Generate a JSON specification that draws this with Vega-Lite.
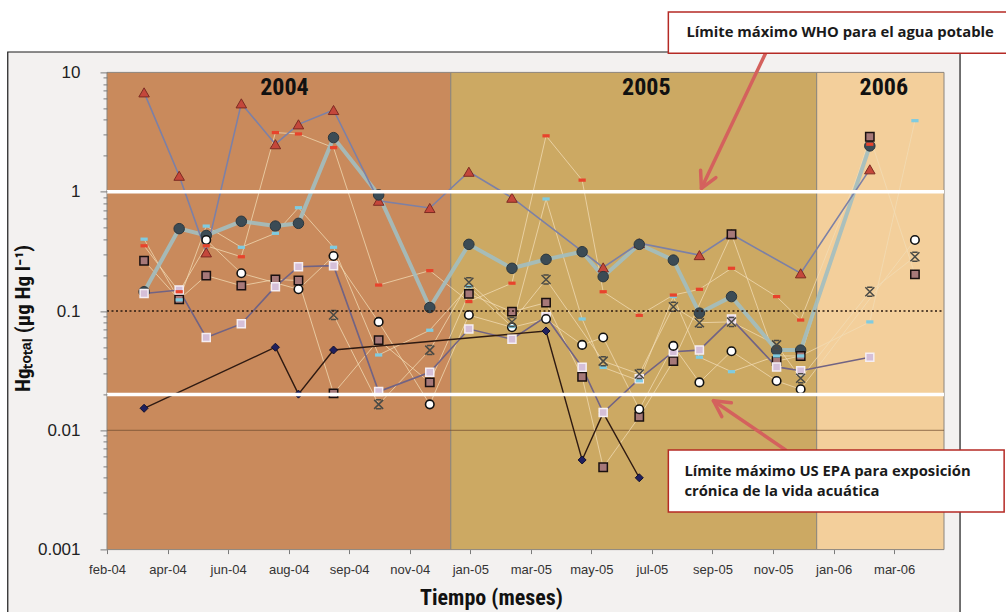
{
  "$schema": "https://vega.github.io/schema/vega-lite/v6.json",
  "width": 837,
  "height": 477.2,
  "autosize": {"type": "none"},
  "padding": {"left": 107, "top": 72.4, "right": 62, "bottom": 62.4},
  "background": "#ffffff",
  "config": {"view": {"stroke": null}},
  "datasets": {
    "marco": [{"fecha": "2003-10-17", "fecha2": "2006-05-24", "hg": 0.0001, "hg2": 14.83}],
    "franjas": [
      {"anio": "2004", "fecha": "2004-01-24", "fecha2": "2005-01-01", "hg": 0.001, "hg2": 10},
      {"anio": "2005", "fecha": "2005-01-01", "fecha2": "2006-01-01", "hg": 0.001, "hg2": 10},
      {"anio": "2006", "fecha": "2006-01-01", "fecha2": "2006-05-08", "hg": 0.001, "hg2": 10}
    ],
    "limites": [
      {"linea": "base", "fecha": "2004-01-24", "fecha2": "2006-05-08", "hg": 0.01},
      {"linea": "punteada", "fecha": "2004-01-24", "fecha2": "2006-05-08", "hg": 0.1},
      {"linea": "WHO", "fecha": "2004-01-24", "fecha2": "2006-05-08", "hg": 1},
      {"linea": "EPA", "fecha": "2004-01-24", "fecha2": "2006-05-08", "hg": 0.02}
    ],
    "anios": [
      {"anio": "2004", "fecha": "2004-07-19", "hg": 7.39},
      {"anio": "2005", "fecha": "2005-07-15", "hg": 7.39},
      {"anio": "2006", "fecha": "2006-03-09", "hg": 7.39}
    ],
    "cajas": [
      {"nota": "WHO", "fecha": "2005-08-06", "fecha2": "2006-07-20", "hg": 14.5, "hg2": 32.1},
      {"nota": "EPA", "fecha": "2005-08-06", "fecha2": "2006-07-07", "hg": 0.002065, "hg2": 0.00684}
    ],
    "textos": [
      {"nota": "WHO", "fecha": "2005-08-24", "hg": 21.3, "texto": "Límite máximo WHO para el agua potable"},
      {"nota": "EPA", "fecha": "2005-08-22", "hg": 0.00447, "texto": "Límite máximo US EPA para exposición\ncrónica de la vida acuática"}
    ],
    "flechas": [
      {"flecha": "WHO", "fecha": "2005-11-11", "hg": 14.5, "fecha2": "2005-09-08", "hg2": 1.068},
      {"flecha": "EPA", "fecha": "2005-12-01", "hg": 0.00684, "fecha2": "2005-09-20", "hg2": 0.0177}
    ],
    "puntas": [
      {"flecha": "WHO", "fecha": "2005-09-08", "hg": 1.068},
      {"flecha": "EPA", "fecha": "2005-09-20", "hg": 0.0177}
    ],
    "series": [
      {"serie": "E1", "fecha": "2004-03-01", "hg": 6.8},
      {"serie": "E1", "fecha": "2004-04-05", "hg": 1.36},
      {"serie": "E1", "fecha": "2004-05-02", "hg": 0.31},
      {"serie": "E1", "fecha": "2004-06-06", "hg": 5.5},
      {"serie": "E1", "fecha": "2004-07-10", "hg": 2.5},
      {"serie": "E1", "fecha": "2004-08-02", "hg": 3.67},
      {"serie": "E1", "fecha": "2004-09-06", "hg": 4.84},
      {"serie": "E1", "fecha": "2004-10-21", "hg": 0.84},
      {"serie": "E1", "fecha": "2004-12-11", "hg": 0.73},
      {"serie": "E1", "fecha": "2005-01-19", "hg": 1.47},
      {"serie": "E1", "fecha": "2005-03-03", "hg": 0.89},
      {"serie": "E1", "fecha": "2005-06-02", "hg": 0.232},
      {"serie": "E1", "fecha": "2005-07-08", "hg": 0.37},
      {"serie": "E1", "fecha": "2005-09-06", "hg": 0.294},
      {"serie": "E1", "fecha": "2005-10-08", "hg": 0.44},
      {"serie": "E1", "fecha": "2005-12-16", "hg": 0.207},
      {"serie": "E1", "fecha": "2006-02-23", "hg": 1.54},

      {"serie": "E2", "fecha": "2004-03-01", "hg": 0.145},
      {"serie": "E2", "fecha": "2004-04-05", "hg": 0.49},
      {"serie": "E2", "fecha": "2004-05-02", "hg": 0.43},
      {"serie": "E2", "fecha": "2004-06-06", "hg": 0.565},
      {"serie": "E2", "fecha": "2004-07-10", "hg": 0.515},
      {"serie": "E2", "fecha": "2004-08-02", "hg": 0.543},
      {"serie": "E2", "fecha": "2004-09-06", "hg": 2.84},
      {"serie": "E2", "fecha": "2004-10-21", "hg": 0.94},
      {"serie": "E2", "fecha": "2004-12-11", "hg": 0.107},
      {"serie": "E2", "fecha": "2005-01-19", "hg": 0.362},
      {"serie": "E2", "fecha": "2005-03-03", "hg": 0.228},
      {"serie": "E2", "fecha": "2005-04-06", "hg": 0.271},
      {"serie": "E2", "fecha": "2005-05-12", "hg": 0.314},
      {"serie": "E2", "fecha": "2005-06-02", "hg": 0.194},
      {"serie": "E2", "fecha": "2005-07-08", "hg": 0.362},
      {"serie": "E2", "fecha": "2005-08-11", "hg": 0.267},
      {"serie": "E2", "fecha": "2005-09-06", "hg": 0.096},
      {"serie": "E2", "fecha": "2005-10-08", "hg": 0.132},
      {"serie": "E2", "fecha": "2005-11-22", "hg": 0.047},
      {"serie": "E2", "fecha": "2005-12-16", "hg": 0.047},
      {"serie": "E2", "fecha": "2006-02-23", "hg": 2.42},

      {"serie": "E3", "fecha": "2004-03-01", "hg": 0.352},
      {"serie": "E3", "fecha": "2004-04-05", "hg": 0.145},
      {"serie": "E3", "fecha": "2004-05-02", "hg": 0.352},
      {"serie": "E3", "fecha": "2004-06-06", "hg": 0.285},
      {"serie": "E3", "fecha": "2004-07-10", "hg": 3.13},
      {"serie": "E3", "fecha": "2004-08-02", "hg": 3.05},
      {"serie": "E3", "fecha": "2004-09-06", "hg": 2.34},
      {"serie": "E3", "fecha": "2004-10-21", "hg": 0.165},
      {"serie": "E3", "fecha": "2004-12-11", "hg": 0.218},
      {"serie": "E3", "fecha": "2005-01-19", "hg": 0.12},
      {"serie": "E3", "fecha": "2005-03-03", "hg": 0.171},
      {"serie": "E3", "fecha": "2005-04-06", "hg": 2.94},
      {"serie": "E3", "fecha": "2005-05-12", "hg": 1.25},
      {"serie": "E3", "fecha": "2005-06-02", "hg": 0.145},
      {"serie": "E3", "fecha": "2005-07-08", "hg": 0.092},
      {"serie": "E3", "fecha": "2005-08-11", "hg": 0.136},
      {"serie": "E3", "fecha": "2005-09-06", "hg": 0.152},
      {"serie": "E3", "fecha": "2005-10-08", "hg": 0.228},
      {"serie": "E3", "fecha": "2005-11-22", "hg": 0.132},
      {"serie": "E3", "fecha": "2005-12-16", "hg": 0.084},
      {"serie": "E3", "fecha": "2006-02-23", "hg": 2.5},

      {"serie": "E4", "fecha": "2004-03-01", "hg": 0.40},
      {"serie": "E4", "fecha": "2004-04-05", "hg": 0.124},
      {"serie": "E4", "fecha": "2004-05-02", "hg": 0.515},
      {"serie": "E4", "fecha": "2004-06-06", "hg": 0.342},
      {"serie": "E4", "fecha": "2004-07-10", "hg": 0.448},
      {"serie": "E4", "fecha": "2004-08-02", "hg": 0.734},
      {"serie": "E4", "fecha": "2004-09-06", "hg": 0.342},
      {"serie": "E4", "fecha": "2004-10-21", "hg": 0.0428},
      {"serie": "E4", "fecha": "2004-12-11", "hg": 0.069},
      {"serie": "E4", "fecha": "2005-01-19", "hg": 0.16},
      {"serie": "E4", "fecha": "2005-03-03", "hg": 0.074},
      {"serie": "E4", "fecha": "2005-04-06", "hg": 0.869},
      {"serie": "E4", "fecha": "2005-05-12", "hg": 0.0857},
      {"serie": "E4", "fecha": "2005-06-02", "hg": 0.0337},
      {"serie": "E4", "fecha": "2005-07-08", "hg": 0.026},
      {"serie": "E4", "fecha": "2005-08-11", "hg": 0.132},
      {"serie": "E4", "fecha": "2005-09-06", "hg": 0.041},
      {"serie": "E4", "fecha": "2005-10-08", "hg": 0.031},
      {"serie": "E4", "fecha": "2005-11-22", "hg": 0.042},
      {"serie": "E4", "fecha": "2005-12-16", "hg": 0.042},
      {"serie": "E4", "fecha": "2006-02-23", "hg": 0.081},
      {"serie": "E4", "fecha": "2006-04-09", "hg": 3.94},

      {"serie": "E5", "fecha": "2004-03-01", "hg": 0.264},
      {"serie": "E5", "fecha": "2004-04-05", "hg": 0.125},
      {"serie": "E5", "fecha": "2004-05-02", "hg": 0.198},
      {"serie": "E5", "fecha": "2004-06-06", "hg": 0.163},
      {"serie": "E5", "fecha": "2004-07-10", "hg": 0.184},
      {"serie": "E5", "fecha": "2004-08-02", "hg": 0.18},
      {"serie": "E5", "fecha": "2004-09-06", "hg": 0.0204},
      {"serie": "E5", "fecha": "2004-10-21", "hg": 0.057},
      {"serie": "E5", "fecha": "2004-12-11", "hg": 0.0252},
      {"serie": "E5", "fecha": "2005-01-19", "hg": 0.139},
      {"serie": "E5", "fecha": "2005-03-03", "hg": 0.0987},
      {"serie": "E5", "fecha": "2005-04-06", "hg": 0.1175},
      {"serie": "E5", "fecha": "2005-05-12", "hg": 0.0281},
      {"serie": "E5", "fecha": "2005-06-02", "hg": 0.0049},
      {"serie": "E5", "fecha": "2005-07-08", "hg": 0.013},
      {"serie": "E5", "fecha": "2005-08-11", "hg": 0.038},
      {"serie": "E5", "fecha": "2005-10-08", "hg": 0.44},
      {"serie": "E5", "fecha": "2005-11-22", "hg": 0.038},
      {"serie": "E5", "fecha": "2005-12-16", "hg": 0.042},
      {"serie": "E5", "fecha": "2006-02-23", "hg": 2.89},
      {"serie": "E5", "fecha": "2006-04-09", "hg": 0.203},

      {"serie": "E6", "fecha": "2004-03-01", "hg": 0.14},
      {"serie": "E6", "fecha": "2004-04-05", "hg": 0.15},
      {"serie": "E6", "fecha": "2004-05-02", "hg": 0.060},
      {"serie": "E6", "fecha": "2004-06-06", "hg": 0.078},
      {"serie": "E6", "fecha": "2004-07-10", "hg": 0.16},
      {"serie": "E6", "fecha": "2004-08-02", "hg": 0.235},
      {"serie": "E6", "fecha": "2004-09-06", "hg": 0.24},
      {"serie": "E6", "fecha": "2004-10-21", "hg": 0.0211},
      {"serie": "E6", "fecha": "2004-12-11", "hg": 0.0306},
      {"serie": "E6", "fecha": "2005-01-19", "hg": 0.0706},
      {"serie": "E6", "fecha": "2005-03-03", "hg": 0.058},
      {"serie": "E6", "fecha": "2005-04-06", "hg": 0.0896},
      {"serie": "E6", "fecha": "2005-05-12", "hg": 0.0337},
      {"serie": "E6", "fecha": "2005-06-02", "hg": 0.0141},
      {"serie": "E6", "fecha": "2005-07-08", "hg": 0.027},
      {"serie": "E6", "fecha": "2005-08-11", "hg": 0.0456},
      {"serie": "E6", "fecha": "2005-09-06", "hg": 0.047},
      {"serie": "E6", "fecha": "2005-10-08", "hg": 0.0857},
      {"serie": "E6", "fecha": "2005-11-22", "hg": 0.034},
      {"serie": "E6", "fecha": "2005-12-16", "hg": 0.0316},
      {"serie": "E6", "fecha": "2006-02-23", "hg": 0.041},

      {"serie": "E7", "fecha": "2004-05-02", "hg": 0.394},
      {"serie": "E7", "fecha": "2004-06-06", "hg": 0.207},
      {"serie": "E7", "fecha": "2004-08-02", "hg": 0.152},
      {"serie": "E7", "fecha": "2004-09-06", "hg": 0.289},
      {"serie": "E7", "fecha": "2004-10-21", "hg": 0.081},
      {"serie": "E7", "fecha": "2004-12-11", "hg": 0.0165},
      {"serie": "E7", "fecha": "2005-01-19", "hg": 0.0925},
      {"serie": "E7", "fecha": "2005-03-03", "hg": 0.073},
      {"serie": "E7", "fecha": "2005-04-06", "hg": 0.0857},
      {"serie": "E7", "fecha": "2005-05-12", "hg": 0.052},
      {"serie": "E7", "fecha": "2005-06-02", "hg": 0.060},
      {"serie": "E7", "fecha": "2005-07-08", "hg": 0.015},
      {"serie": "E7", "fecha": "2005-08-11", "hg": 0.051},
      {"serie": "E7", "fecha": "2005-09-06", "hg": 0.0252},
      {"serie": "E7", "fecha": "2005-10-08", "hg": 0.046},
      {"serie": "E7", "fecha": "2005-11-22", "hg": 0.0259},
      {"serie": "E7", "fecha": "2005-12-16", "hg": 0.0221},
      {"serie": "E7", "fecha": "2006-04-09", "hg": 0.394},

      {"serie": "E8", "fecha": "2004-03-01", "hg": 0.0153},
      {"serie": "E8", "fecha": "2004-07-10", "hg": 0.0497},
      {"serie": "E8", "fecha": "2004-08-02", "hg": 0.0201},
      {"serie": "E8", "fecha": "2004-09-06", "hg": 0.0471},
      {"serie": "E8", "fecha": "2005-04-06", "hg": 0.068},
      {"serie": "E8", "fecha": "2005-05-12", "hg": 0.00564},
      {"serie": "E8", "fecha": "2005-06-02", "hg": 0.014},
      {"serie": "E8", "fecha": "2005-07-08", "hg": 0.004},

      {"serie": "E9", "fecha": "2004-09-06", "hg": 0.0925},
      {"serie": "E9", "fecha": "2004-10-21", "hg": 0.0165},
      {"serie": "E9", "fecha": "2004-12-11", "hg": 0.047},
      {"serie": "E9", "fecha": "2005-01-19", "hg": 0.174},
      {"serie": "E9", "fecha": "2005-03-03", "hg": 0.081},
      {"serie": "E9", "fecha": "2005-04-06", "hg": 0.184},
      {"serie": "E9", "fecha": "2005-06-02", "hg": 0.038},
      {"serie": "E9", "fecha": "2005-07-08", "hg": 0.0296},
      {"serie": "E9", "fecha": "2005-08-11", "hg": 0.1086},
      {"serie": "E9", "fecha": "2005-09-06", "hg": 0.0798},
      {"serie": "E9", "fecha": "2005-10-08", "hg": 0.081},
      {"serie": "E9", "fecha": "2005-11-22", "hg": 0.052},
      {"serie": "E9", "fecha": "2005-12-16", "hg": 0.0273},
      {"serie": "E9", "fecha": "2006-02-23", "hg": 0.145},
      {"serie": "E9", "fecha": "2006-04-09", "hg": 0.285}
    ]
  },
  "encoding": {
    "x": {
      "field": "fecha",
      "type": "temporal",
      "scale": {"domain": [1074902400000, 1147046400000], "nice": false},
      "axis": {
        "title": "Tiempo (meses)",
        "values": [1074902400000, 1080121392000, 1085340384000, 1090559376000, 1095778368000, 1100997360000, 1106216352000, 1111435344000, 1116654336000, 1121873328000, 1127092320000, 1132311312000, 1137530304000, 1142749296000],
        "labelExpr": "['feb-04','apr-04','jun-04','aug-04','sep-04','nov-04','jan-05','mar-05','may-05','jul-05','sep-05','nov-05','jan-06','mar-06'][round((datum.value - 1074902400000) / 5218992000)]",
        "domain": false,
        "grid": false,
        "tickSize": 4,
        "tickColor": "#7a7a7a",
        "labelFont": "Liberation Sans",
        "labelFontSize": 13,
        "labelColor": "#333333",
        "labelPadding": 10,
        "labelOverlap": false,
        "labelFlush": false,
        "labelBound": false,
        "titleFont": "Roboto Condensed, Liberation Sans Narrow, Roboto, sans-serif",
        "titleFontSize": 22,
        "titleFontWeight": "bold",
        "titleColor": "#111111",
        "titleX": 384,
        "titleY": 54.4,
        "titleBaseline": "alphabetic",
        "zindex": 1
      }
    },
    "y": {
      "field": "hg",
      "type": "quantitative",
      "scale": {"type": "log", "domain": [0.001, 10], "nice": false},
      "axis": {
        "title": "Hgₜₒₜₐₗ (µg Hg l⁻¹)",
        "values": [0.001, 0.002, 0.003, 0.004, 0.005, 0.006, 0.007, 0.008, 0.009, 0.01, 0.02, 0.03, 0.04, 0.05, 0.06, 0.07, 0.08, 0.09, 0.1, 0.2, 0.3, 0.4, 0.5, 0.6, 0.7, 0.8, 0.9, 1, 2, 3, 4, 5, 6, 7, 8, 9, 10],
        "labelExpr": "abs(log(datum.value)/LN10 - round(log(datum.value)/LN10)) < 0.01 ? format(datum.value, '~g') : ''",
        "domain": false,
        "grid": false,
        "tickSize": {"condition": {"test": "abs(log(datum.value)/LN10 - round(log(datum.value)/LN10)) < 0.01", "value": 7}, "value": 4},
        "tickColor": "#7a7a7a",
        "labelFont": "Liberation Sans",
        "labelFontSize": 17,
        "labelColor": "#222222",
        "labelPadding": 20,
        "labelOverlap": false,
        "labelBound": false,
        "titleFont": "Roboto Condensed, Liberation Sans Narrow, Roboto, sans-serif",
        "titleFontSize": 21,
        "titleFontWeight": "bold",
        "titleColor": "#111111",
        "titleX": -77.5,
        "titleY": 245.6,
        "titleAngle": -90,
        "titleAlign": "center",
        "titleBaseline": "alphabetic",
        "zindex": 1
      }
    }
  },
  "layer": [
    {"data": {"name": "marco"}, "mark": {"type": "rect", "fill": "#f3f1f0", "stroke": "#1a1a1a", "strokeWidth": 1.2}, "encoding": {"x2": {"field": "fecha2"}, "y2": {"field": "hg2"}}},
    {"data": {"name": "franjas"}, "mark": {"type": "rect", "stroke": "#8c857c", "strokeWidth": 1}, "encoding": {"x2": {"field": "fecha2"}, "y2": {"field": "hg2"}, "color": {"field": "anio", "type": "nominal", "scale": {"domain": ["2004", "2005", "2006"], "range": ["#c98a5c", "#cca963", "#f3cf9b"]}, "legend": null}}},
    {"data": {"name": "limites"}, "transform": [{"filter": "datum.linea == 'base'"}], "mark": {"type": "rule", "color": "#6d4a2e", "strokeWidth": 0.9, "opacity": 0.8}, "encoding": {"x2": {"field": "fecha2"}}},
    {"data": {"name": "series"}, "transform": [{"filter": "indexof(['E3','E4','E5','E7','E9'], datum.serie) >= 0"}], "mark": {"type": "line", "color": "#f2dcb6", "strokeWidth": 1, "opacity": 0.75}, "encoding": {"detail": {"field": "serie"}}},
    {"data": {"name": "series"}, "transform": [{"filter": "datum.serie == 'E2'"}], "mark": {"type": "line", "color": "#a2bec0", "strokeWidth": 4, "opacity": 0.9}},
    {"data": {"name": "series"}, "transform": [{"filter": "datum.serie == 'E1'"}], "mark": {"type": "line", "color": "#7c80a6", "strokeWidth": 1.6}},
    {"data": {"name": "series"}, "transform": [{"filter": "datum.serie == 'E6'"}], "mark": {"type": "line", "color": "#716384", "strokeWidth": 1.6}},
    {"data": {"name": "series"}, "transform": [{"filter": "datum.serie == 'E8'"}], "mark": {"type": "line", "color": "#2e1a12", "strokeWidth": 1.4}},
    {"data": {"name": "series"}, "transform": [{"filter": "datum.serie == 'E1'"}], "mark": {"type": "point", "shape": "triangle-up", "size": 110, "filled": true, "fill": "#c4473b", "stroke": "#7d2b22", "strokeWidth": 1, "opacity": 1}},
    {"data": {"name": "series"}, "transform": [{"filter": "datum.serie == 'E8'"}], "mark": {"type": "point", "shape": "diamond", "size": 64, "filled": true, "fill": "#20205e", "stroke": "#10102e", "strokeWidth": 1, "opacity": 1}},
    {"data": {"name": "series"}, "transform": [{"filter": "datum.serie == 'E2'"}], "mark": {"type": "point", "shape": "circle", "size": 110, "filled": true, "fill": "#3b4b55", "stroke": "#2a363d", "strokeWidth": 1, "opacity": 1}},
    {"data": {"name": "series"}, "transform": [{"filter": "datum.serie == 'E5'"}], "mark": {"type": "point", "shape": "square", "size": 70, "filled": true, "fill": "#a67878", "stroke": "#1a1010", "strokeWidth": 1.5, "opacity": 1}},
    {"data": {"name": "series"}, "transform": [{"filter": "datum.serie == 'E6'"}], "mark": {"type": "point", "shape": "square", "size": 64, "filled": true, "fill": "#d5bfd8", "stroke": "#f5eef3", "strokeWidth": 1.5, "opacity": 1}},
    {"data": {"name": "series"}, "transform": [{"filter": "datum.serie == 'E7'"}], "mark": {"type": "point", "shape": "circle", "size": 72, "filled": true, "fill": "#ffffff", "stroke": "#111111", "strokeWidth": 1.6, "opacity": 1}},
    {"data": {"name": "series"}, "transform": [{"filter": "datum.serie == 'E4'"}], "mark": {"type": "point", "shape": "M-1,-0.45L1,-0.45L1,0.45L-1,0.45Z", "size": 52, "filled": true, "fill": "#7fcbe0", "strokeWidth": 0, "opacity": 1}},
    {"data": {"name": "series"}, "transform": [{"filter": "datum.serie == 'E3'"}], "mark": {"type": "point", "shape": "M-1,-0.45L1,-0.45L1,0.45L-1,0.45Z", "size": 52, "filled": true, "fill": "#e8432c", "strokeWidth": 0, "opacity": 1}},
    {"data": {"name": "series"}, "transform": [{"filter": "datum.serie == 'E9'"}], "mark": {"type": "point", "shape": "M-1,-1L1,1M1,-1L-1,1M-0.6,-1L0.6,-1M-0.6,1L0.6,1", "size": 81, "filled": false, "stroke": "#4a4a45", "strokeWidth": 1.5, "opacity": 1}},
    {"data": {"name": "limites"}, "transform": [{"filter": "datum.linea == 'punteada'"}], "mark": {"type": "rule", "color": "#2a1a10", "strokeWidth": 1.6, "strokeDash": [2, 2.5]}, "encoding": {"x2": {"field": "fecha2"}}},
    {"data": {"name": "limites"}, "transform": [{"filter": "datum.linea == 'WHO' || datum.linea == 'EPA'"}], "mark": {"type": "rule", "color": "#ffffff", "strokeWidth": 3.5}, "encoding": {"x2": {"field": "fecha2"}}},
    {"data": {"name": "flechas"}, "mark": {"type": "rule", "color": "#d4615d", "strokeWidth": 3.5, "strokeCap": "round"}, "encoding": {"x2": {"field": "fecha2"}, "y2": {"field": "hg2"}}},
    {"data": {"name": "puntas"}, "transform": [{"filter": "datum.flecha == 'WHO'"}], "mark": {"type": "point", "shape": "M-0.47,-0.883L0,0L0.47,-0.883", "size": 1296, "angle": 25.4, "filled": false, "stroke": "#d4615d", "strokeWidth": 3.5, "strokeCap": "round", "strokeJoin": "round", "opacity": 1}},
    {"data": {"name": "puntas"}, "transform": [{"filter": "datum.flecha == 'EPA'"}], "mark": {"type": "point", "shape": "M-0.47,-0.883L0,0L0.47,-0.883", "size": 1296, "angle": 124.3, "filled": false, "stroke": "#d4615d", "strokeWidth": 3.5, "strokeCap": "round", "strokeJoin": "round", "opacity": 1}},
    {"data": {"name": "cajas"}, "mark": {"type": "rect", "fill": "#ffffff", "stroke": "#b52a25", "strokeWidth": 1.5}, "encoding": {"x2": {"field": "fecha2"}, "y2": {"field": "hg2"}}},
    {"data": {"name": "textos"}, "mark": {"type": "text", "align": "left", "baseline": "middle", "font": "Open Sans", "fontWeight": "bold", "fontSize": 14.8, "color": "#1a1a1a", "lineBreak": "\n", "lineHeight": 20}, "encoding": {"text": {"field": "texto"}}},
    {"data": {"name": "anios"}, "mark": {"type": "text", "align": "center", "baseline": "middle", "font": "Roboto Condensed, Liberation Sans Narrow, Roboto, sans-serif", "fontWeight": "bold", "fontSize": 24, "color": "#111111"}, "encoding": {"text": {"field": "anio"}}}
  ]
}
